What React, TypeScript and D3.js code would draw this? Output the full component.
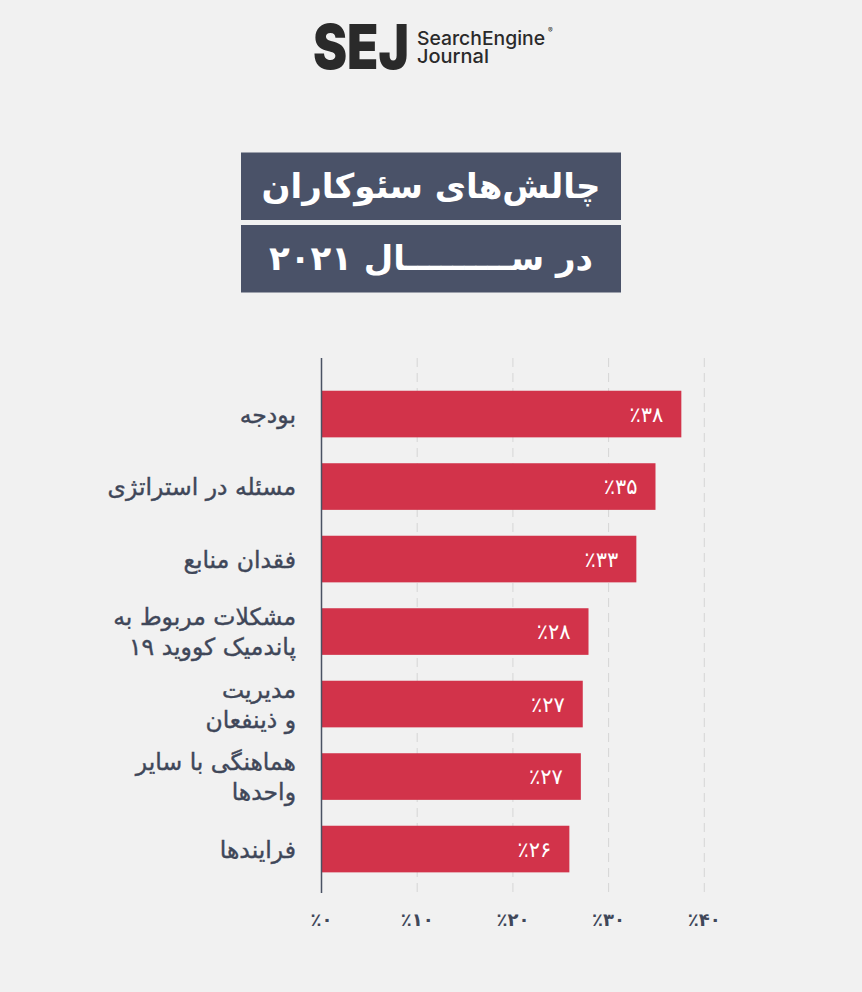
import React from "react";
import * as d3 from "d3";

const categories: string[][] = [
  ["بودجه"],
  ["مسئله در استراتژی"],
  ["فقدان منابع"],
  ["مشکلات مربوط به", "پاندمیک کووید ۱۹"],
  ["مدیریت", "و ذینفعان"],
  ["هماهنگی با سایر", "واحدها"],
  ["فرایندها"],
];
const values: number[] = [37.6, 34.9, 32.9, 27.9, 27.3, 27.1, 25.9];
const valueLabels: string[] = ["٪۳۸", "٪۳۵", "٪۳۳", "٪۲۸", "٪۲۷", "٪۲۷", "٪۲۶"];
const ticks: number[] = [0, 10, 20, 30, 40];
const tickLabels: string[] = ["٪۰", "٪۱۰", "٪۲۰", "٪۳۰", "٪۴۰"];
const titleLine1 = "چالش‌های سئوکاران";
const titleLine2 = "در ســـــــــال ۲۰۲۱";

const W = 862;
const H = 992;
const FONT = "'DejaVu Sans', 'Noto Sans', sans-serif";
const BAR = "#d2334a";
const SLATE = "#4a5268";
const TEXT = "#3f4759";

export default function App() {
  React.useEffect(() => {
    document.body.style.margin = "0";
  }, []);

  const x = d3.scaleLinear().domain([0, 40]).range([321.5, 704.3]);
  const y = d3
    .scaleBand<number>()
    .domain(d3.range(categories.length))
    .range([377.8, 885.3])
    .paddingInner(0.357)
    .paddingOuter(0.1785);
  const bw = y.bandwidth();

  return (
    <svg width={W} height={H} style={{ display: "block" }} fontFamily={FONT}>
      <rect x={0} y={0} width={W} height={H} fill="#f1f1f1" />

      {/* Logo */}
      <g>
        <text x={313} y={69} fontFamily="Inter, Roboto, sans-serif" fontWeight={900} fontSize={62} fill="#2a2a2a" textLength={96} lengthAdjust="spacingAndGlyphs">SEJ</text>
        <text x={417} y={45} fontFamily="Inter, Roboto, sans-serif" fontWeight={500} fontSize={19} fill="#2a2a2a" textLength={128} lengthAdjust="spacingAndGlyphs">SearchEngine</text>
        <text x={548} y={33} fontFamily="Inter, Roboto, sans-serif" fontSize={7} fill="#2a2a2a">®</text>
        <text x={417} y={63} fontFamily="Inter, Roboto, sans-serif" fontWeight={500} fontSize={19} fill="#2a2a2a" textLength={72} lengthAdjust="spacingAndGlyphs">Journal</text>
      </g>

      {/* Title boxes */}
      <rect x={241} y={152.5} width={380} height={67.5} fill={SLATE} />
      <rect x={241} y={225} width={380} height={67.5} fill={SLATE} />
      <text x={431} y={198} textAnchor="middle" fill="#ffffff" fontWeight="bold" fontSize={34}>{titleLine1}</text>
      <text x={431} y={270} textAnchor="middle" fill="#ffffff" fontWeight="bold" fontSize={34}>{titleLine2}</text>

      {/* Grid */}
      {ticks.slice(1).map((t) => (
        <line key={"g" + t} x1={x(t)} x2={x(t)} y1={358} y2={893} stroke="#d6d6d6" strokeWidth={1} strokeDasharray="9 6" />
      ))}

      {/* Bars */}
      {values.map((v, i) => (
        <g key={"b" + i}>
          <rect x={x(0)} y={y(i)} width={x(v) - x(0)} height={bw} fill={BAR} />
          <text x={x(v) - 18} y={(y(i) as number) + bw / 2} dy="0.36em" textAnchor="end" fill="#ffffff" fontSize={21}>{valueLabels[i]}</text>
        </g>
      ))}

      {/* Axis line */}
      <line x1={x(0)} x2={x(0)} y1={358} y2={893} stroke="#4a5263" strokeWidth={1.5} />

      {/* Category labels */}
      {categories.map((lines, i) => {
        const cy = (y(i) as number) + bw / 2;
        const lh = 30;
        return (
          <text key={"c" + i} textAnchor="end" fill={TEXT} stroke={TEXT} strokeWidth={0.4} fontSize={23.5}>
            {lines.map((l, j) => (
              <tspan key={j} x={296} y={cy + (j - (lines.length - 1) / 2) * lh} dy="0.36em">{l}</tspan>
            ))}
          </text>
        );
      })}

      {/* Tick labels */}
      {ticks.map((t, i) => (
        <text key={"t" + t} x={x(t)} y={920} dy="0.36em" textAnchor="middle" fill={TEXT} fontSize={18} fontWeight="bold">{tickLabels[i]}</text>
      ))}
    </svg>
  );
}
